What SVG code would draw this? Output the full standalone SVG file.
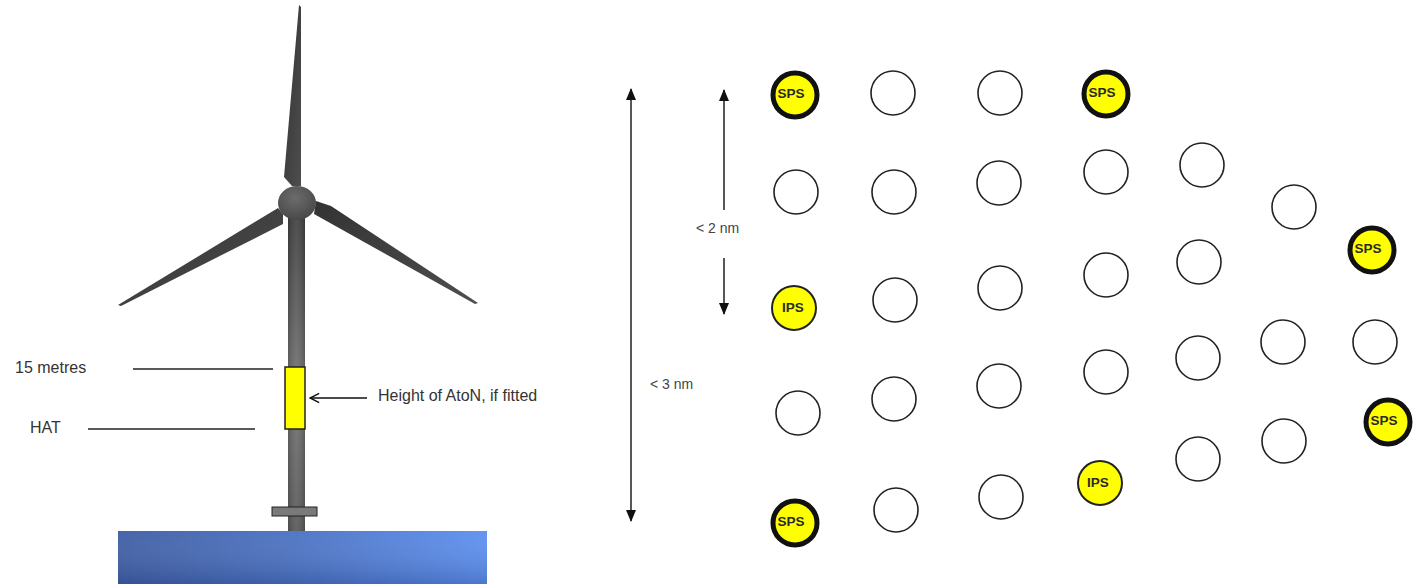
<svg xmlns="http://www.w3.org/2000/svg" width="1421" height="584" viewBox="0 0 1421 584">
  <defs>
    <linearGradient id="towerGrad" x1="0" y1="0" x2="0" y2="1">
      <stop offset="0" stop-color="#3e3e3e"/>
      <stop offset="0.55" stop-color="#737373"/>
      <stop offset="1" stop-color="#585858"/>
    </linearGradient>
    <linearGradient id="towerShade" x1="0" y1="0" x2="1" y2="0">
      <stop offset="0" stop-color="#000" stop-opacity="0.15"/>
      <stop offset="0.5" stop-color="#fff" stop-opacity="0.08"/>
      <stop offset="1" stop-color="#000" stop-opacity="0.15"/>
    </linearGradient>
    <radialGradient id="hubGrad" cx="0.45" cy="0.35" r="0.7">
      <stop offset="0" stop-color="#6c6c6c"/>
      <stop offset="1" stop-color="#464646"/>
    </radialGradient>
    <linearGradient id="bladeGrad" x1="0" y1="0" x2="1" y2="1">
      <stop offset="0" stop-color="#333"/>
      <stop offset="1" stop-color="#4e4e4e"/>
    </linearGradient>
    <linearGradient id="waterGrad" x1="0" y1="0" x2="1" y2="0">
      <stop offset="0" stop-color="#3d5ca3"/>
      <stop offset="0.5" stop-color="#4a72c4"/>
      <stop offset="1" stop-color="#5b8ff0"/>
    </linearGradient>
    <linearGradient id="waterShade" x1="0" y1="0" x2="0" y2="1">
      <stop offset="0" stop-color="#fff" stop-opacity="0.05"/>
      <stop offset="1" stop-color="#1a2f66" stop-opacity="0.25"/>
    </linearGradient>
    <marker id="solidHead" viewBox="0 0 12 10" refX="11" refY="5" markerWidth="12" markerHeight="10" markerUnits="userSpaceOnUse" orient="auto">
      <path d="M0,0 L12,5 L0,10 Z" fill="#111"/>
    </marker>
    <marker id="openHead" viewBox="0 0 12 12" refX="11" refY="6" markerWidth="11" markerHeight="11" markerUnits="userSpaceOnUse" orient="auto">
      <path d="M1,1 L11,6 L1,11" fill="none" stroke="#111" stroke-width="1.6"/>
    </marker>
  </defs>
  <style>
    .lbl { font-family: "Liberation Sans", Arial, sans-serif; fill: #333; }
    .dim { font-family: "Liberation Sans", Arial, sans-serif; fill: #444; font-size: 14px; }
    .guide { stroke: #222; stroke-width: 1.5; fill: none; }
    .dimline { stroke: #111; stroke-width: 1.4; fill: none; }
    .site { fill: #fff; stroke: #222; stroke-width: 1.6; }
    .sps { fill: #ffff00; stroke: #111; stroke-width: 5; }
    .ips { fill: #ffff00; stroke: #222; stroke-width: 2; }
    .tag { font-family: "Liberation Sans", Arial, sans-serif; font-weight: bold; font-size: 13.5px; fill: #2a2a2a; text-anchor: middle; }
  </style>

  <rect width="1421" height="584" fill="#fff"/>

  <!-- Turbine -->
  <g id="water">
    <rect x="118" y="531" width="369" height="53" fill="url(#waterGrad)"/>
    <rect x="118" y="531" width="369" height="53" fill="url(#waterShade)"/>
  </g>
  <g id="turbine">
    <rect x="288" y="212" width="17" height="319" fill="url(#towerGrad)"/>
    <rect x="288" y="212" width="17" height="319" fill="url(#towerShade)"/>
    <rect x="272" y="507" width="45" height="9" fill="#7a7a7a" stroke="#222" stroke-width="1"/>
    <polygon points="299,5 301,7 301,186 292,186 284,177" fill="url(#bladeGrad)"/>
    <polygon points="118,305 278,208 283,214 283,224 121,306" fill="url(#bladeGrad)"/>
    <polygon points="316,201 331,206 478,303 475,304 314,214" fill="url(#bladeGrad)"/>
    <ellipse cx="297" cy="203" rx="19" ry="17" fill="url(#hubGrad)"/>
  </g>
  <g id="aton">
    <rect x="285" y="367" width="20" height="62" fill="#ffff00" stroke="#222" stroke-width="1.5"/>
  </g>

  <!-- Left-hand labels -->
  <g id="label-15m">
    <text class="lbl" x="15" y="373" font-size="16">15 metres</text>
    <line class="guide" x1="133" y1="369" x2="273" y2="369"/>
  </g>
  <g id="label-hat">
    <text class="lbl" x="30" y="433" font-size="16">HAT</text>
    <line class="guide" x1="88" y1="429" x2="255" y2="429"/>
  </g>
  <g id="label-aton">
    <text class="lbl" x="378" y="401" font-size="16">Height of AtoN, if fitted</text>
  </g>

  <!-- Dimension arrows -->
  <g id="connectors">
    <line class="dimline" x1="367" y1="398" x2="310" y2="398" marker-end="url(#openHead)"/>
    <line class="dimline" x1="631" y1="305" x2="631" y2="89" marker-end="url(#solidHead)"/>
    <line class="dimline" x1="631" y1="305" x2="631" y2="521" marker-end="url(#solidHead)"/>
    <line class="dimline" x1="724" y1="210" x2="724" y2="90" marker-end="url(#solidHead)"/>
    <line class="dimline" x1="724" y1="258" x2="724" y2="314" marker-end="url(#solidHead)"/>
  </g>
  <g id="label-2nm"><text class="dim" x="696" y="233">&lt; 2 nm</text></g>
  <g id="label-3nm"><text class="dim" x="650" y="389" font-size="15">&lt; 3 nm</text></g>

  <!-- Turbine sites -->
  <g id="site-c1r1"><circle class="sps" cx="795" cy="95" r="22"/><text class="tag" x="791" y="98">SPS</text></g>
  <g id="site-c1r2"><circle class="site" cx="796" cy="192" r="22"/></g>
  <g id="site-c1r3"><circle class="ips" cx="794" cy="308" r="22"/><text class="tag" x="793" y="312">IPS</text></g>
  <g id="site-c1r4"><circle class="site" cx="798" cy="413" r="22"/></g>
  <g id="site-c1r5"><circle class="sps" cx="795" cy="523" r="22"/><text class="tag" x="791" y="526">SPS</text></g>

  <g id="site-c2r1"><circle class="site" cx="893" cy="93" r="22"/></g>
  <g id="site-c2r2"><circle class="site" cx="894" cy="192" r="22"/></g>
  <g id="site-c2r3"><circle class="site" cx="895" cy="300" r="22"/></g>
  <g id="site-c2r4"><circle class="site" cx="894" cy="399" r="22"/></g>
  <g id="site-c2r5"><circle class="site" cx="896" cy="510" r="22"/></g>

  <g id="site-c3r1"><circle class="site" cx="1000" cy="93" r="22"/></g>
  <g id="site-c3r2"><circle class="site" cx="999" cy="183" r="22"/></g>
  <g id="site-c3r3"><circle class="site" cx="1000" cy="288" r="22"/></g>
  <g id="site-c3r4"><circle class="site" cx="999" cy="386" r="22"/></g>
  <g id="site-c3r5"><circle class="site" cx="1001" cy="497" r="22"/></g>

  <g id="site-c4r1"><circle class="sps" cx="1106" cy="94" r="22"/><text class="tag" x="1102" y="97">SPS</text></g>
  <g id="site-c4r2"><circle class="site" cx="1106" cy="172" r="22"/></g>
  <g id="site-c4r3"><circle class="site" cx="1106" cy="275" r="22"/></g>
  <g id="site-c4r4"><circle class="site" cx="1106" cy="372" r="22"/></g>
  <g id="site-c4r5"><circle class="ips" cx="1100" cy="483" r="22"/><text class="tag" x="1098" y="487">IPS</text></g>

  <g id="site-c5r1"><circle class="site" cx="1202" cy="165" r="22"/></g>
  <g id="site-c5r2"><circle class="site" cx="1199" cy="262" r="22"/></g>
  <g id="site-c5r3"><circle class="site" cx="1198" cy="358" r="22"/></g>
  <g id="site-c5r4"><circle class="site" cx="1198" cy="459" r="22"/></g>

  <g id="site-c6r1"><circle class="site" cx="1294" cy="207" r="22"/></g>
  <g id="site-c6r2"><circle class="site" cx="1283" cy="342" r="22"/></g>
  <g id="site-c6r3"><circle class="site" cx="1284" cy="441" r="22"/></g>

  <g id="site-c7r1"><circle class="sps" cx="1372" cy="250" r="22"/><text class="tag" x="1368" y="253">SPS</text></g>
  <g id="site-c7r2"><circle class="site" cx="1375" cy="342" r="22"/></g>
  <g id="site-c7r3"><circle class="sps" cx="1388" cy="422" r="22"/><text class="tag" x="1384" y="425">SPS</text></g>
</svg>
